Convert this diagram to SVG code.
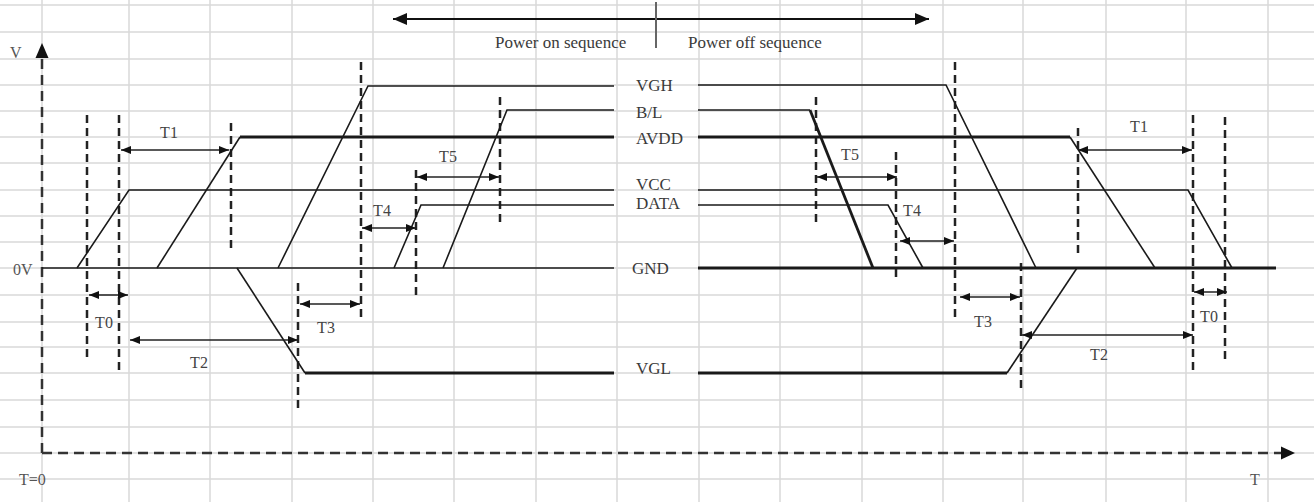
<svg xmlns="http://www.w3.org/2000/svg" width="1314" height="502" viewBox="0 0 1314 502">
<style>
.grid line{stroke:#d9d9d9;stroke-width:1.5}
.ax{stroke:#333;stroke-width:2.5;stroke-dasharray:10 6;fill:none}
.mk{stroke:#222;stroke-width:2.5;stroke-dasharray:8 5;fill:none}
.sig{stroke:#1a1a1a;stroke-width:1.6;fill:none;stroke-linejoin:miter}
.thk{stroke-width:2.8}
.dim{stroke:#222;stroke-width:1.5;fill:none;marker-start:url(#ah);marker-end:url(#ah)}
.lbl{font-family:"Liberation Serif","Times New Roman",serif;font-size:17px;fill:#3a3a3a}
.tl{font-family:"Liberation Serif","Times New Roman",serif;font-size:16px;fill:#444;text-anchor:middle}
.axl{font-family:"Liberation Serif","Times New Roman",serif;font-size:16px;fill:#555}
</style>
<defs>
<marker id="ah" viewBox="0 0 10 8" refX="10" refY="4" markerWidth="10" markerHeight="8" markerUnits="userSpaceOnUse" orient="auto-start-reverse"><path d="M0,0 L10,4 L0,8 z" fill="#111"/></marker>
<marker id="ahL" viewBox="0 0 14 12" refX="14" refY="6" markerWidth="14" markerHeight="12" markerUnits="userSpaceOnUse" orient="auto-start-reverse"><path d="M0,0 L14,6 L0,12 z" fill="#111"/></marker>
</defs>
<rect width="1314" height="502" fill="#fff"/>
<g class="grid" id="grid">
<line x1="42" y1="0" x2="42" y2="502"/><line x1="129" y1="0" x2="129" y2="502"/><line x1="210" y1="0" x2="210" y2="502"/><line x1="292" y1="0" x2="292" y2="502"/><line x1="373" y1="0" x2="373" y2="502"/><line x1="454" y1="0" x2="454" y2="502"/><line x1="536" y1="0" x2="536" y2="502"/><line x1="617" y1="0" x2="617" y2="502"/><line x1="699" y1="0" x2="699" y2="502"/><line x1="780" y1="0" x2="780" y2="502"/><line x1="862" y1="0" x2="862" y2="502"/><line x1="943" y1="0" x2="943" y2="502"/><line x1="1023" y1="0" x2="1023" y2="502"/><line x1="1106" y1="0" x2="1106" y2="502"/><line x1="1186" y1="0" x2="1186" y2="502"/><line x1="1268" y1="0" x2="1268" y2="502"/>
<line x1="0" y1="5" x2="1314" y2="5"/><line x1="0" y1="32" x2="1314" y2="32"/><line x1="0" y1="59" x2="1314" y2="59"/><line x1="0" y1="85" x2="1314" y2="85"/><line x1="0" y1="111" x2="1314" y2="111"/><line x1="0" y1="137" x2="1314" y2="137"/><line x1="0" y1="163" x2="1314" y2="163"/><line x1="0" y1="190" x2="1314" y2="190"/><line x1="0" y1="216" x2="1314" y2="216"/><line x1="0" y1="242" x2="1314" y2="242"/><line x1="0" y1="268" x2="1314" y2="268"/><line x1="0" y1="295" x2="1314" y2="295"/><line x1="0" y1="322" x2="1314" y2="322"/><line x1="0" y1="347" x2="1314" y2="347"/><line x1="0" y1="373" x2="1314" y2="373"/><line x1="0" y1="400" x2="1314" y2="400"/><line x1="0" y1="427" x2="1314" y2="427"/><line x1="0" y1="453" x2="1314" y2="453"/><line x1="0" y1="479" x2="1314" y2="479"/>
</g>
<g id="axes">
<line class="ax" x1="42" y1="453" x2="42" y2="58"/>
<path d="M42,43 L35.5,58 L48.5,58 z" fill="#111"/>
<line class="ax" x1="42" y1="453" x2="1282" y2="453"/>
<path d="M1295,453 L1281,446.5 L1281,459.5 z" fill="#111"/>
<text class="axl" x="10" y="58">V</text>
<text class="axl" x="13" y="275">0V</text>
<text class="axl" x="19" y="485">T=0</text>
<text class="axl" x="1255" y="485" text-anchor="middle">T</text>
</g>
<g id="header">
<line x1="393" y1="19" x2="929" y2="19" stroke="#111" stroke-width="2" marker-start="url(#ahL)" marker-end="url(#ahL)"/>
<line x1="656" y1="2" x2="656" y2="48" stroke="#666" stroke-width="2"/>
<text class="lbl" x="495" y="48">Power on sequence</text>
<text class="lbl" x="688" y="48">Power off sequence</text>
</g>
<g id="markers">
<line class="mk" x1="87" y1="115" x2="87" y2="358"/>
<line class="mk" x1="119" y1="115" x2="119" y2="375"/>
<line class="mk" x1="231" y1="123" x2="231" y2="248"/>
<line class="mk" x1="361" y1="62" x2="361" y2="322"/>
<line class="mk" x1="298" y1="283" x2="298" y2="408"/>
<line class="mk" x1="416" y1="170" x2="416" y2="295"/>
<line class="mk" x1="500" y1="97" x2="500" y2="222"/>
<line class="mk" x1="816" y1="97" x2="816" y2="222"/>
<line class="mk" x1="896" y1="152" x2="896" y2="277"/>
<line class="mk" x1="955" y1="62" x2="955" y2="322"/>
<line class="mk" x1="1021" y1="263" x2="1021" y2="388"/>
<line class="mk" x1="1078" y1="128" x2="1078" y2="253"/>
<line class="mk" x1="1193" y1="115" x2="1193" y2="375"/>
<line class="mk" x1="1225" y1="117" x2="1225" y2="362"/>
</g>
<g id="VGH">
<path class="sig" d="M278,268 L368,86 L614,86"/>
<path class="sig" d="M698,85 L946,85 L1036,268"/>
<text class="lbl" x="636" y="91">VGH</text>
</g>
<g id="BL">
<path class="sig" d="M443,268 L507,110 L614,110"/>
<path class="sig" d="M698,110 L810,110"/>
<path class="sig thk" d="M810,110 L873,268" stroke-width="2.4"/>
<text class="lbl" x="636" y="118">B/L</text>
</g>
<g id="AVDD">
<path class="sig" d="M157,268 L240,137"/>
<path class="sig thk" d="M240,137 L614,137"/>
<path class="sig thk" d="M698,137 L1070,137"/>
<path class="sig" d="M1070,137 L1155,268"/>
<text class="lbl" x="636" y="144">AVDD</text>
</g>
<g id="VCC">
<path class="sig" d="M77,268 L129,190 L614,190"/>
<path class="sig" d="M698,190 L1188,190 L1232,268"/>
<text class="lbl" x="636" y="190">VCC</text>
</g>
<g id="DATA">
<path class="sig" d="M394,268 L421,205 L614,205" stroke-width="2"/>
<path class="sig" d="M698,205 L888,205 L923,268" stroke-width="2"/>
<text class="lbl" x="636" y="209">DATA</text>
</g>
<g id="GND">
<path class="sig" d="M42,268 L614,268" stroke-width="2"/>
<path class="sig thk" d="M698,268 L1276,268"/>
<text class="lbl" x="632" y="274">GND</text>
</g>
<g id="VGL">
<path class="sig" d="M237,268 L305,373"/>
<path class="sig thk" d="M305,373 L614,373" stroke-width="3.2"/>
<path class="sig thk" d="M698,373 L1007,373"/>
<path class="sig" d="M1007,373 L1077,268"/>
<text class="lbl" x="636" y="374">VGL</text>
</g>
<g id="timings">
<line class="dim" x1="121" y1="150" x2="229" y2="150"/>
<line class="dim" x1="89" y1="295" x2="128" y2="295"/>
<line class="dim" x1="130" y1="340" x2="298" y2="340"/>
<line class="dim" x1="300" y1="304" x2="360" y2="304"/>
<line class="dim" x1="362" y1="228" x2="416" y2="228"/>
<line class="dim" x1="417" y1="177" x2="499" y2="177"/>
<line class="dim" x1="817" y1="177" x2="897" y2="177"/>
<line class="dim" x1="900" y1="241" x2="954" y2="241"/>
<line class="dim" x1="960" y1="297" x2="1020" y2="297"/>
<line class="dim" x1="1022" y1="335" x2="1193" y2="335"/>
<line class="dim" x1="1078" y1="150" x2="1192" y2="150"/>
<line class="dim" x1="1194" y1="292" x2="1227" y2="292"/>
<text class="tl" x="169" y="138">T1</text>
<text class="tl" x="104" y="328">T0</text>
<text class="tl" x="199" y="368">T2</text>
<text class="tl" x="326" y="333">T3</text>
<text class="tl" x="382" y="216">T4</text>
<text class="tl" x="448" y="162">T5</text>
<text class="tl" x="850" y="160">T5</text>
<text class="tl" x="912" y="216">T4</text>
<text class="tl" x="983" y="327">T3</text>
<text class="tl" x="1099" y="360">T2</text>
<text class="tl" x="1139" y="132">T1</text>
<text class="tl" x="1209" y="322">T0</text>
</g>
</svg>
